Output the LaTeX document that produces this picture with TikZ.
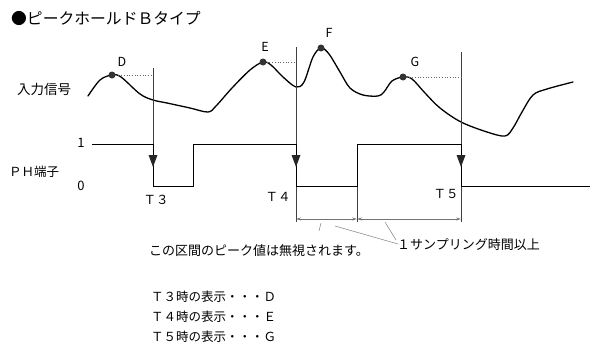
\documentclass[tikz,border=0pt]{standalone}
\usepackage{fontspec}
\setmainfont{Noto Sans CJK JP}
\usetikzlibrary{arrows.meta}
\begin{document}
\begin{tikzpicture}[x=1pt,y=-1pt,
  sig/.style={line width=1.3pt, line join=round, line cap=round},
  phline/.style={line width=0.7pt},
  vline/.style={line width=0.5pt, black!75},
  dotl/.style={dotted, line width=0.7pt, black!60},
  dimline/.style={line width=0.45pt, black!55, {Stealth[open,length=5pt,width=3pt]}-{Stealth[open,length=5pt,width=3pt]}},
  lead/.style={line width=0.45pt, black!55},
  pk/.style={circle, fill=black!80, inner sep=0pt, minimum size=7pt},
  lbl/.style={font=\fontsize{12.5}{14}\selectfont, inner sep=0pt},
  txt/.style={font=\fontsize{13}{15}\selectfont, inner sep=0pt},
  downtri/.pic={\fill[black!85] (-4.5,-6) -- (4.5,-6) -- (0,6) -- cycle;}
]
\useasboundingbox (0,0) rectangle (590,348);

% title
\node[lbl, anchor=west, font=\fontsize{15.8}{17}\selectfont] (title) at (11,18) {●ピークホールドＢタイプ};
\node[lbl, anchor=west, font=\fontsize{13.5}{15}\selectfont] (in) at (17,89) {入力信号};
\node[lbl, anchor=west] (phl) at (9,172) {ＰＨ端子};
\node[lbl, font=\fontsize{13}{15}\selectfont] (one) at (81,143) {1};
\node[lbl, font=\fontsize{13}{15}\selectfont] (zero) at (81,186) {0};

% input signal
\draw[sig] plot[smooth, tension=0.55] coordinates {
 (88,96) (100,80) (112,75) (121,77) (140,94) (153,100) (167,103) (190,108) (208,112)
 (216,106) (232,88) (250,70) (263,62) (271,65) (283,77) (296,87)
 (304,82) (313,57) (321,48) (329,54) (340,72) (350,88) (363,95) (378,96)
 (384,92) (392,81) (403,77) (412,79) (425,93) (440,108) (461,122) (487,132) (505,136)
 (513,128) (522,112) (533,95) (547,89) (573,82)};

% peaks
\node[pk] (D) at (112,75) {};
\node[pk] (E) at (263,62) {};
\node[pk] (F) at (321,48) {};
\node[pk] (G) at (403,77) {};
\node[lbl] (Dl) at (122,62) {D};
\node[lbl] (El) at (265,47) {E};
\node[lbl] (Fl) at (329,33) {F};
\node[lbl] (Gl) at (415,62) {G};

% vertical marker lines
\coordinate (t3top) at (153,68);
\coordinate (t4top) at (296,47);
\coordinate (t5top) at (461,52);
\coordinate (t3b) at (153,186);
\coordinate (t4b) at (296,222);
\coordinate (t5b) at (461,222);
\coordinate (mtop) at (357,144);
\coordinate (mb) at (357,222);
\draw[vline] (t3top) -- (t3b);
\draw[vline] (t4top) -- (t4b);
\draw[vline] (t5top) -- (t5b);
\draw[vline] (mtop) -- (mb);

% dotted hold lines
\coordinate (Dr) at (153,75);
\coordinate (Er) at (296,62);
\coordinate (Gr) at (461,77);
\draw[dotl] (D) -- (Dr);
\draw[dotl] (E) -- (Er);
\draw[dotl] (G) -- (Gr);

% PH signal
\coordinate (p0) at (92,144);
\coordinate (p1) at (153,144);
\coordinate (p2) at (153,186);
\coordinate (p3) at (193,186);
\coordinate (p4) at (193,144);
\coordinate (p5) at (296,144);
\coordinate (p6) at (296,186);
\coordinate (p7) at (357,186);
\coordinate (p8) at (357,144);
\coordinate (p9) at (461,144);
\coordinate (p10) at (461,186);
\coordinate (p11) at (590,186);
\draw[phline] (p0) -- (p1) -- (p2) -- (p3) -- (p4) -- (p5) -- (p6) -- (p7) -- (p8) -- (p9) -- (p10) -- (p11);

% arrow triangles
\pic at (153,161) {downtri};
\pic at (296,161) {downtri};
\pic at (461,161) {downtri};

\node[lbl] (T3) at (156,200) {Ｔ３};
\node[lbl] (T4) at (278,197) {Ｔ４};
\node[lbl] (T5) at (446,194) {Ｔ５};

% dimensions
\coordinate (d1) at (296,219);
\coordinate (d2) at (357,219);
\coordinate (d3) at (461,219);
\draw[dimline] (d1) -- (d2);
\draw[dimline] (d2) -- (d3);

% texts
\node[txt, anchor=west] (ignore) at (149,251) {この区間のピーク値は無視されます。};
\node[txt, anchor=west] (samp) at (397,245) {１サンプリング時間以上};

% leaders
\coordinate (l1a) at (321,223);
\coordinate (l1b) at (319,231);
\coordinate (l2a) at (335,226);
\coordinate (l2b) at (398,244);
\coordinate (l3a) at (385,222);
\coordinate (l3b) at (396,240);
\draw[lead] (l1a) -- (l1b);
\draw[lead] (l2a) -- (l2b);
\draw[lead] (l3a) -- (l3b);

% list
\node[lbl, anchor=west] (r3) at (151,297) {Ｔ３時の表示・・・Ｄ};
\node[lbl, anchor=west] (r4) at (151,317) {Ｔ４時の表示・・・Ｅ};
\node[lbl, anchor=west] (r5) at (151,337) {Ｔ５時の表示・・・Ｇ};
\end{tikzpicture}
\end{document}
